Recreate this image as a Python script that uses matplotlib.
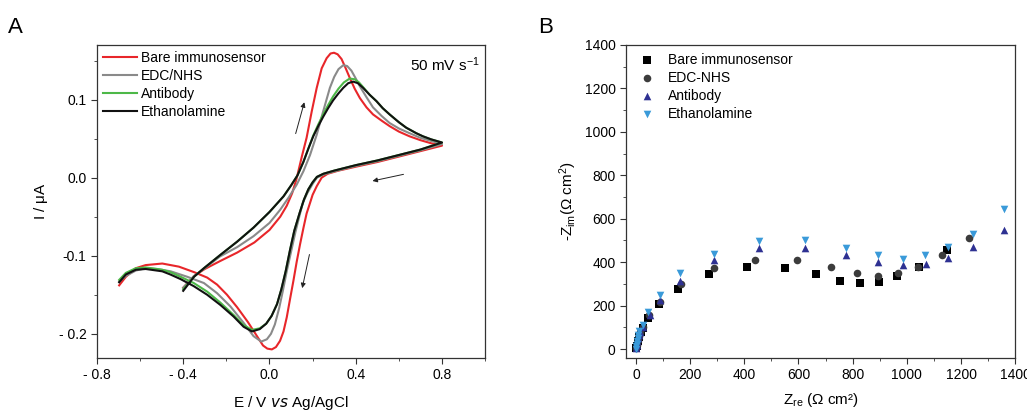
import matplotlib
matplotlib.use('Agg')
import matplotlib.pyplot as plt
from matplotlib.ticker import MultipleLocator, FixedLocator, FixedFormatter

plt.rcParams['font.family'] = ['Liberation Sans', 'DejaVu Sans']
plt.rcParams['mathtext.default'] = 'regular'

# ---------------- panel A : cyclic voltammograms (E in V, I in uA) ----------------
# each curve: start at -0.4 V, forward to 0.8 V, back to -0.7 V
cv_names = ['Bare immunosensor', 'EDC/NHS', 'Antibody', 'Ethanolamine']
cv_colors = ['#e8262a', '#8a8a8a', '#4db848', '#111111']

bare_E = [-0.40, -0.35, -0.30, -0.23, -0.15, -0.07, 0.00, 0.05, 0.08, 0.105, 0.125, 0.15, 0.172,
          0.196, 0.219, 0.242, 0.265, 0.283, 0.299, 0.316, 0.334, 0.352, 0.372, 0.395, 0.419,
          0.45, 0.48, 0.52, 0.557, 0.60, 0.649, 0.70, 0.75, 0.80,
          0.70, 0.60, 0.50, 0.40, 0.32, 0.27, 0.242, 0.219, 0.20, 0.185, 0.172, 0.157, 0.142,
          0.126, 0.111, 0.095, 0.08, 0.065, 0.049, 0.03, 0.011, -0.01, -0.03, -0.058, -0.10,
          -0.15, -0.197, -0.243, -0.289, -0.35, -0.42, -0.497, -0.574, -0.62, -0.666, -0.697]
bare_I = [-0.141, -0.126, -0.117, -0.107, -0.096, -0.083, -0.067, -0.050, -0.036, -0.020, -0.002,
          0.027, 0.051, 0.085, 0.115, 0.140, 0.153, 0.159, 0.160, 0.158, 0.152, 0.141, 0.128,
          0.114, 0.102, 0.090, 0.081, 0.073, 0.066, 0.059, 0.053, 0.048, 0.044, 0.041,
          0.034, 0.027, 0.020, 0.014, 0.009, 0.005, 0.000, -0.011, -0.022, -0.035, -0.046,
          -0.065, -0.085, -0.108, -0.132, -0.156, -0.179, -0.197, -0.209, -0.217, -0.220,
          -0.219, -0.215, -0.203, -0.185, -0.166, -0.150, -0.137, -0.128, -0.121, -0.114,
          -0.110, -0.112, -0.116, -0.127, -0.138]

edc_E = [-0.40, -0.35, -0.30, -0.23, -0.15, -0.074, 0.00, 0.05, 0.09, 0.126, 0.157, 0.188,
         0.219, 0.249, 0.28, 0.30, 0.32, 0.342, 0.36, 0.38, 0.40, 0.419, 0.45, 0.48, 0.52,
         0.557, 0.60, 0.649, 0.70, 0.75, 0.80,
         0.70, 0.60, 0.50, 0.40, 0.30, 0.25, 0.22, 0.20, 0.175, 0.155, 0.138, 0.12, 0.10, 0.08,
         0.062, 0.045, 0.025, 0.007, -0.012, -0.038, -0.074, -0.12, -0.181, -0.243, -0.304,
         -0.381, -0.458, -0.52, -0.574, -0.62, -0.666, -0.697]
edc_I = [-0.141, -0.126, -0.116, -0.101, -0.089, -0.075, -0.058, -0.041, -0.025, -0.009, 0.008,
         0.029, 0.055, 0.085, 0.115, 0.129, 0.139, 0.144, 0.143, 0.137, 0.127, 0.117, 0.103,
         0.090, 0.079, 0.070, 0.063, 0.057, 0.051, 0.047, 0.043,
         0.035, 0.028, 0.021, 0.015, 0.008, 0.004, 0.000, -0.008, -0.020, -0.032, -0.050,
         -0.070, -0.095, -0.120, -0.145, -0.167, -0.188, -0.200, -0.207, -0.210, -0.203,
         -0.186, -0.165, -0.148, -0.135, -0.127, -0.120, -0.117, -0.116, -0.119, -0.126, -0.133]

ab_E = [-0.40, -0.35, -0.304, -0.228, -0.15, -0.074, 0.00, 0.065, 0.10, 0.13, 0.157, 0.18,
        0.203, 0.226, 0.249, 0.272, 0.295, 0.32, 0.345, 0.372, 0.395, 0.415, 0.434, 0.465,
        0.496, 0.525, 0.557, 0.60, 0.634, 0.68, 0.711, 0.75, 0.80,
        0.70, 0.60, 0.50, 0.40, 0.30, 0.25, 0.22, 0.20, 0.18, 0.16, 0.14, 0.115, 0.095,
        0.075, 0.055, 0.035, 0.01, -0.015, -0.045, -0.081, -0.12, -0.166, -0.228, -0.289,
        -0.351, -0.412, -0.46, -0.497, -0.574, -0.62, -0.666, -0.697]
ab_I = [-0.143, -0.127, -0.116, -0.099, -0.082, -0.064, -0.044, -0.024, -0.010, 0.003, 0.020,
        0.037, 0.054, 0.068, 0.081, 0.093, 0.104, 0.114, 0.122, 0.127, 0.126, 0.122, 0.116,
        0.106, 0.098, 0.089, 0.081, 0.071, 0.064, 0.057, 0.053, 0.049, 0.045,
        0.036, 0.029, 0.022, 0.016, 0.009, 0.005, 0.001, -0.006, -0.015, -0.028, -0.045,
        -0.068, -0.093, -0.120, -0.143, -0.162, -0.177, -0.187, -0.193, -0.195, -0.189,
        -0.176, -0.160, -0.146, -0.135, -0.127, -0.121, -0.118, -0.115, -0.116, -0.122, -0.131]

eth_E = [-0.40, -0.35, -0.304, -0.228, -0.15, -0.074, 0.00, 0.065, 0.10, 0.13, 0.157, 0.18,
         0.203, 0.226, 0.249, 0.272, 0.295, 0.32, 0.342, 0.365, 0.388, 0.41, 0.434, 0.465,
         0.496, 0.525, 0.557, 0.60, 0.634, 0.68, 0.711, 0.75, 0.80,
         0.70, 0.60, 0.50, 0.40, 0.30, 0.25, 0.22, 0.20, 0.18, 0.16, 0.14, 0.115, 0.095,
         0.075, 0.055, 0.035, 0.01, -0.015, -0.045, -0.081, -0.12, -0.166, -0.228, -0.289,
         -0.351, -0.412, -0.46, -0.497, -0.574, -0.62, -0.666, -0.697]
eth_I = [-0.145, -0.127, -0.116, -0.099, -0.082, -0.064, -0.044, -0.024, -0.010, 0.003, 0.020,
         0.037, 0.053, 0.066, 0.078, 0.089, 0.099, 0.108, 0.115, 0.121, 0.123, 0.121, 0.115,
         0.106, 0.098, 0.089, 0.081, 0.071, 0.064, 0.057, 0.053, 0.049, 0.045,
         0.036, 0.029, 0.022, 0.016, 0.009, 0.005, 0.001, -0.006, -0.015, -0.028, -0.045,
         -0.068, -0.093, -0.120, -0.143, -0.162, -0.177, -0.187, -0.194, -0.197, -0.191,
         -0.178, -0.163, -0.150, -0.139, -0.130, -0.124, -0.120, -0.117, -0.118, -0.124, -0.134]

cv_E = [bare_E, edc_E, ab_E, eth_E]
cv_I = [bare_I, edc_I, ab_I, eth_I]

# ---------------- panel B : Nyquist plots (ohm cm2) ----------------
eis_names = ['Bare immunosensor', 'EDC-NHS', 'Antibody', 'Ethanolamine']
eis_markers = ['s', 'o', '^', 'v']
eis_colors = ['#000000', '#3c3c3c', '#2e3192', '#3a9ad9']

bare_re = [1, 3, 6, 10, 17, 27, 46, 86, 156, 270, 410, 549, 664, 753, 827, 898, 965, 1046, 1148]
bare_im = [3, 15, 35, 55, 80, 98, 142, 208, 278, 345, 377, 371, 346, 314, 305, 311, 337, 380, 457]

edc_re = [1, 3, 6, 10, 16, 27, 48, 90, 168, 288, 441, 593, 719, 815, 895, 969, 1043, 1130, 1228]
edc_im = [5, 20, 40, 60, 80, 103, 157, 218, 298, 372, 409, 409, 380, 349, 338, 349, 380, 435, 511]

ab_re = [0, 2, 4, 7, 10, 15, 27, 51, 90, 164, 288, 454, 623, 777, 894, 984, 1070, 1151, 1243, 1360]
ab_im = [5, 20, 35, 50, 65, 80, 100, 157, 226, 314, 408, 464, 464, 434, 400, 385, 391, 418, 469, 549]

eth_re = [0, 1, 2, 4, 6, 9, 13, 27, 46, 88, 164, 288, 454, 623, 777, 894, 984, 1068, 1151, 1243, 1360]
eth_im = [2, 12, 25, 38, 52, 66, 82, 112, 169, 249, 349, 438, 498, 503, 466, 431, 414, 431, 472, 529, 645]

eis_re = [bare_re, edc_re, ab_re, eth_re]
eis_im = [bare_im, edc_im, ab_im, eth_im]

fig = plt.figure(figsize=(10.27, 4.13), dpi=100)
axA = fig.add_axes([0.0944, 0.1332, 0.378, 0.758])
axB = fig.add_axes([0.6095, 0.1332, 0.379, 0.758])

spine_col = '#333333'

# ---- A ----
for E, I, c, n in zip(cv_E, cv_I, cv_colors, cv_names):
    axA.plot(E, I, color=c, lw=1.5, label=n)
axA.set_xlim(-0.8, 1.0)
axA.set_ylim(-0.231, 0.17)
axA.xaxis.set_major_locator(FixedLocator([-0.8, -0.4, 0.0, 0.4, 0.8]))
axA.xaxis.set_major_formatter(FixedFormatter(['- 0.8', '- 0.4', '0.0', '0.4', '0.8']))
axA.xaxis.set_minor_locator(MultipleLocator(0.2))
axA.yaxis.set_major_locator(FixedLocator([-0.2, -0.1, 0.0, 0.1]))
axA.yaxis.set_major_formatter(FixedFormatter(['- 0.2', '-0.1', '0.0', '0.1']))
axA.yaxis.set_minor_locator(MultipleLocator(0.05))
axA.set_xlabel(r'E / V $\mathit{vs}$ Ag/AgCl', fontsize=11, labelpad=8)
axA.set_ylabel(r'I / $\mu$A', fontsize=11, labelpad=6)
axA.legend(loc='upper left', frameon=False, fontsize=10, handlelength=2.4,
           handletextpad=0.3, labelspacing=0.28, borderaxespad=0.1, borderpad=0.35)
axA.text(0.985, 0.965, r'50 mV s$^{-1}$', transform=axA.transAxes, ha='right', va='top', fontsize=11)
arrow = dict(arrowstyle='-|>', color='#222222', lw=0.7, mutation_scale=7)
axA.annotate('', xy=(0.165, 0.100), xytext=(0.118, 0.053), arrowprops=arrow)
axA.annotate('', xy=(0.465, -0.005), xytext=(0.634, 0.005), arrowprops=arrow)
axA.annotate('', xy=(0.149, -0.145), xytext=(0.188, -0.095), arrowprops=arrow)

# ---- B ----
for x, y, m, c, n in zip(eis_re, eis_im, eis_markers, eis_colors, eis_names):
    axB.scatter(x, y, marker=m, s=30, color=c, linewidths=0, label=n, zorder=3)
axB.set_xlim(-37, 1400)
axB.set_ylim(-41, 1400)
axB.xaxis.set_major_locator(MultipleLocator(200))
axB.xaxis.set_minor_locator(MultipleLocator(100))
axB.yaxis.set_major_locator(MultipleLocator(200))
axB.yaxis.set_minor_locator(MultipleLocator(100))
axB.set_xlabel(r'Z$_{re}$ ($\Omega$ cm²)', fontsize=11, labelpad=6)
axB.set_ylabel(r'-Z$_{im}$($\Omega$ cm$^2$)', fontsize=11, labelpad=4)
axB.legend(loc='upper left', frameon=False, fontsize=10, handletextpad=0.5,
           labelspacing=0.3, borderaxespad=0.05, borderpad=0.5, scatterpoints=1)

for ax in (axA, axB):
    for s in ax.spines.values():
        s.set_color(spine_col)
        s.set_linewidth(0.9)
    ax.tick_params(which='both', direction='out', top=False, right=False,
                   color=spine_col, labelsize=10)
    ax.tick_params(which='major', length=4)
    ax.tick_params(which='minor', length=2.5)

fig.text(0.008, 0.92, 'A', fontsize=16)
fig.text(0.524, 0.92, 'B', fontsize=16)

fig.savefig('out.png', dpi=100)
